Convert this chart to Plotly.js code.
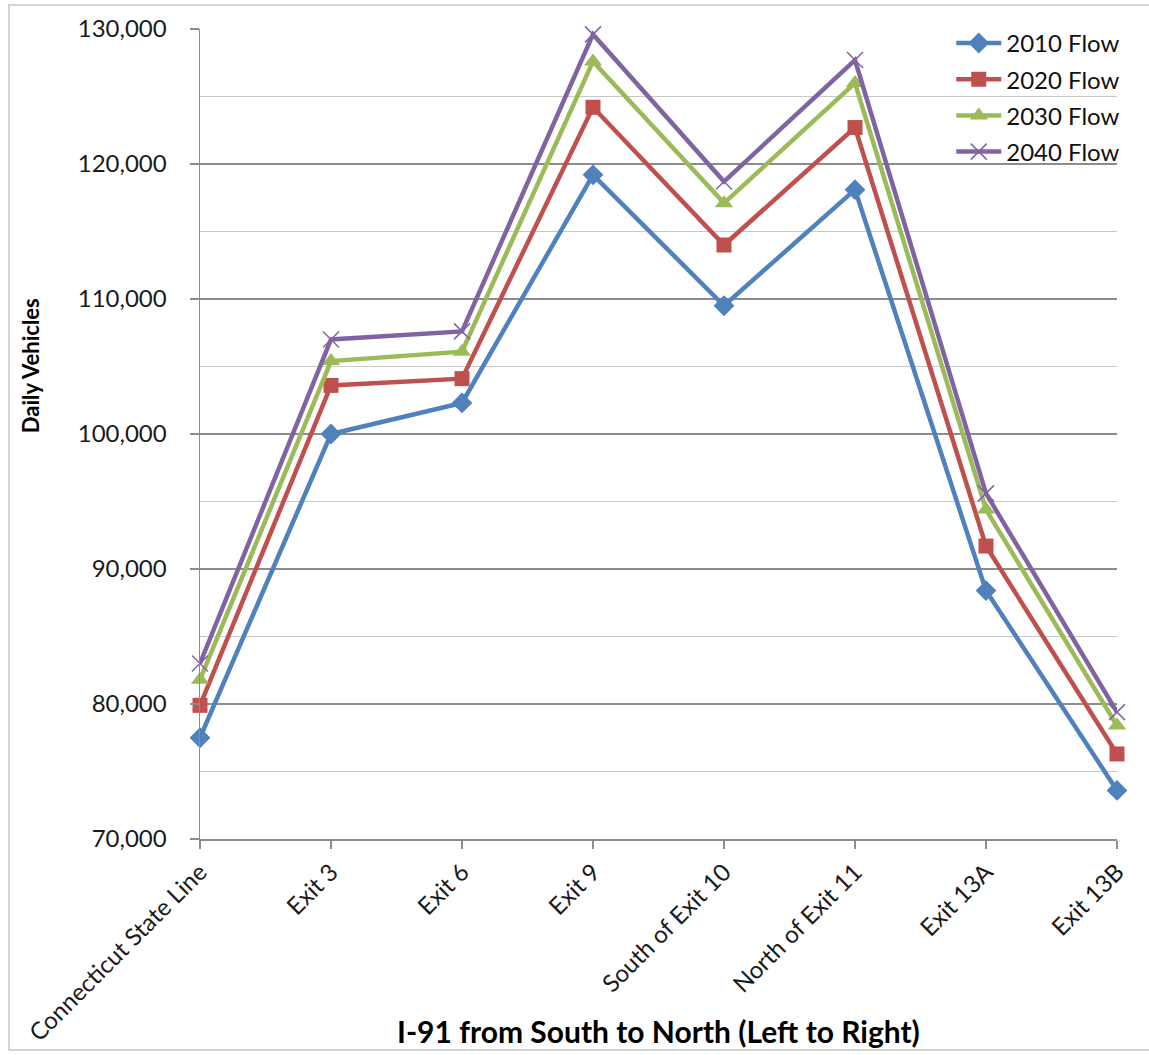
<!DOCTYPE html>
<html>
<head>
<meta charset="utf-8">
<script src="https://cdn.plot.ly/plotly-3.0.1.min.js"></script>
<style>
  html, body { margin: 0; padding: 0; background: #fff; }
  #wrap { position: relative; width: 1149px; height: 1055px; overflow: hidden; }
  #frame { position: absolute; left: 8px; top: 4px; width: 1160px; height: 1047px;
           border: 2px solid #d4d4d4; box-sizing: border-box; pointer-events: none; }
  #chart { position: absolute; left: 0; top: 0; width: 1149px; height: 1055px; }
</style>
</head>
<body>
<div id="wrap">
  <div id="chart"></div>
  <div id="frame"></div>
</div>
<script>
// I-91 daily traffic volumes at count locations, south to north
const locations = ["Connecticut State Line", "Exit 3", "Exit 6", "Exit 9",
                   "South of Exit 10", "North of Exit 11", "Exit 13A", "Exit 13B"];

const flow2010 = [77500, 100000, 102300, 119200, 109500, 118100, 88400, 73600];
const flow2020 = [79900, 103600, 104100, 124200, 114000, 122700, 91700, 76300];
const flow2030 = [81800, 105400, 106100, 127600, 117100, 126000, 94400, 78400];
const flow2040 = [83000, 107000, 107600, 129600, 118700, 127700, 95600, 79400];

const seriesNames = ["2010 Flow", "2020 Flow", "2030 Flow", "2040 Flow"];

const yTitle = "Daily Vehicles";
const xTitle = "I-91 from South to North (Left to Right)";

const FONT = "Lato, 'Open Sans', sans-serif";

function series(name, values, color, symbol, size, extra) {
  const marker = Object.assign({ symbol: symbol, size: size, color: color }, extra || {});
  return {
    type: "scatter",
    mode: "lines+markers",
    name: name,
    legendgroup: name,
    x: locations,
    y: values,
    line: { color: color, width: 4.5 },
    marker: marker,
    cliponaxis: false
  };
}

const traces = [
  series(seriesNames[0], flow2010, "#4F81BD", "diamond", 16),
  series(seriesNames[1], flow2020, "#C0504D", "square", 15),
  series(seriesNames[2], flow2030, "#9BBB59", "triangle-up", 16),
  series(seriesNames[3], flow2040, "#8064A2", "x-thin", 16, { line: { color: "#8064A2", width: 1.5 } })
];

const layout = {
  width: 1149,
  height: 1055,
  margin: { l: 200, r: 32, t: 29, b: 216 },
  paper_bgcolor: "#ffffff",
  plot_bgcolor: "#ffffff",
  font: { family: FONT, size: 23, color: "#1a1a1a" },
  showlegend: true,
  legend: {
    x: 1.009, xanchor: "right",
    y: 1.01, yanchor: "top",
    bgcolor: "rgba(255,255,255,0)",
    borderwidth: 0,
    itemwidth: 45,
    tracegroupgap: 2,
    font: { family: FONT, size: 24, color: "#111" }
  },
  xaxis: {
    type: "category",
    range: [0, 7],
    showgrid: false,
    zeroline: false,
    showline: true,
    linecolor: "#8c8c8c",
    linewidth: 1.5,
    ticks: "outside",
    ticklen: 8,
    tickwidth: 1.5,
    tickcolor: "#8c8c8c",
    tickangle: -45,
    tickfont: { family: FONT, size: 24, color: "#1a1a1a" },
    automargin: false
  },
  yaxis: {
    range: [70000, 130000],
    dtick: 10000,
    tickformat: ",d",
    showgrid: true,
    gridcolor: "#8c8c8c",
    gridwidth: 1.5,
    zeroline: false,
    showline: true,
    linecolor: "#8c8c8c",
    linewidth: 1.5,
    ticks: "outside",
    ticklen: 9,
    tickwidth: 1.5,
    tickcolor: "#8c8c8c",
    ticklabelstandoff: 18,
    tickfont: { family: FONT, size: 24, color: "#1a1a1a" },
    minor: { dtick: 5000, showgrid: true, gridcolor: "#c8c8c8", gridwidth: 1.5, ticks: "" },
    automargin: false
  },
  annotations: [
    {
      text: "<b>" + yTitle + "</b>",
      xref: "paper", yref: "paper",
      x: -0.184, y: 0.584,
      xanchor: "center", yanchor: "middle",
      textangle: -90,
      showarrow: false,
      font: { family: FONT, size: 22, color: "#000" }
    },
    {
      text: "<b>" + xTitle + "</b>",
      xref: "paper", yref: "paper",
      x: 0.5, y: -0.237,
      xanchor: "center", yanchor: "middle",
      showarrow: false,
      font: { family: FONT, size: 30, color: "#000" }
    }
  ]
};

Plotly.newPlot("chart", traces, layout, { displayModeBar: false, staticPlot: true });
</script>
</body>
</html>
